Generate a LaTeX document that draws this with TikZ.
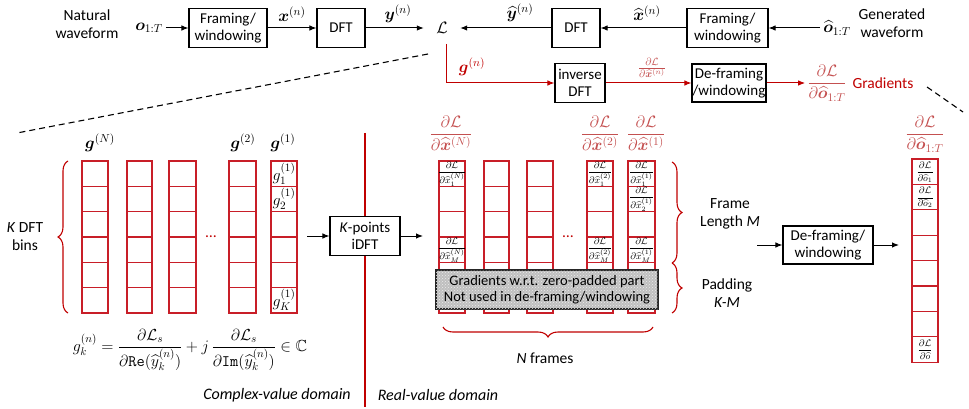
\RequirePackage{fix-cm}
\documentclass[tikz,border=0pt]{standalone}
\usepackage{amsmath,amssymb,bm}
\usepackage[no-math]{fontspec}
\setmainfont{Carlito}
\usetikzlibrary{arrows.meta,decorations.pathreplacing,patterns,calc}
\definecolor{myred}{RGB}{192,0,0}
\definecolor{fracred}{RGB}{196,80,80}
\definecolor{gridred}{RGB}{200,30,40}
\begin{document}
\begin{tikzpicture}[x=1pt,y=-1pt,font=\fontsize{15.5}{18}\selectfont,
  blk/.style={draw=black,line width=1.1pt,fill=white,align=center,inner sep=0pt,font=\fontsize{15}{17.5}\selectfont},
  arr/.style={-{Latex[length=7pt,width=5.5pt]},line width=1pt},
  rarr/.style={arr,draw=myred},
  cell/.style={draw=gridred,line width=1.2pt},
  brc/.style={decorate,decoration={brace,amplitude=10pt},draw=myred,line width=1.1pt},
  dsh/.style={dash pattern=on 6pt off 4pt,line width=1.1pt},
  txt/.style={align=center,inner sep=1pt},
  small/.style={inner sep=0pt,font=\fontsize{9.5}{10}\selectfont},
  mlab/.style={inner sep=0pt,font=\fontsize{16.5}{18}\selectfont}]
\useasboundingbox (0,0) rectangle (969,409);

% ---------- top row ----------
\node[txt] (nat) at (87,24) {Natural\\waveform};
\node[mlab,inner sep=3pt] (o) at (149,28) {$\bm{o}_{1:T}$};
\node[blk,minimum width=78,minimum height=39] (fw1) at (228,28) {Framing/\\windowing};
\node[blk,minimum width=48,minimum height=39] (dft1) at (341,28) {DFT};
\node[mlab,minimum width=36] (L) at (442,28) {$\mathcal{L}$};
\node[blk,minimum width=48,minimum height=39] (dft2) at (576,28) {DFT};
\node[blk,minimum width=81,minimum height=39] (fw2) at (727.5,28) {Framing/\\windowing};
\node[mlab,inner sep=3pt] (oh) at (837,28) {$\widehat{\bm{o}}_{1:T}$};
\node[txt] (gen) at (892,23.5) {Generated\\waveform};

\draw[arr] (o) -- (fw1);
\draw[arr] (fw1) -- (dft1);
\draw[arr] (dft1) -- (L);
\draw[arr] (dft2) -- (L);
\draw[arr] (fw2) -- (dft2);
\draw[arr] (oh) -- (fw2);
\node[mlab] (xl) at (292,14) {$\bm{x}^{(n)}$};
\node[mlab] (yl) at (398,14) {$\bm{y}^{(n)}$};
\node[mlab] (yhl) at (520,13) {$\widehat{\bm{y}}^{(n)}$};
\node[mlab] (xhl) at (647,13) {$\widehat{\bm{x}}^{(n)}$};

% ---------- red gradient row ----------
\coordinate (gs) at (446,44);
\node[blk,minimum width=50,minimum height=39] (idft) at (580,83) {inverse\\DFT};
\node[blk,minimum width=74,minimum height=38] (dfw1) at (729,83) {De-framing\\/windowing};
\node[mlab,text=fracred,inner sep=2pt] (dLdo) at (827,83) {$\dfrac{\partial\mathcal{L}}{\partial\widehat{\bm{o}}_{1:T}}$};
\node[text=myred,inner sep=0pt] (grad) at (883,83) {Gradients};
\draw[rarr] (gs) |- (idft);
\draw[rarr] (idft) -- (dfw1);
\draw[rarr] (dfw1) -- (dLdo);
\node[mlab,text=myred] (gl) at (472,67) {$\bm{g}^{(n)}$};
\node[text=fracred,inner sep=0pt,font=\fontsize{15}{17}\selectfont] (dxl) at (652,68) {$\frac{\partial\mathcal{L}}{\partial\widehat{\bm{x}}^{(n)}}$};

% dashed zoom lines
\coordinate (d1a) at (428,54); \coordinate (d1b) at (17,133);
\coordinate (d2a) at (927,87); \coordinate (d2b) at (963,112);
\draw[dsh] (d1a) -- (d1b);
\draw[dsh] (d2a) -- (d2b);

% divider
\draw[myred,line width=1.2pt] (365,133) -- (365,407);

% ---------- left grid (complex) ----------
\foreach \xa/\xb in {82/108,127/152,169/196,229/256,271/297}{
  \foreach \i in {0,...,5}{
    \draw[cell] (\xa,{161+25.33*\i}) rectangle (\xb,{161+25.33*(\i+1)});
  }
}
\node[mlab] (gN) at (100,143) {$\bm{g}^{(N)}$};
\node[mlab] (g2) at (243,143) {$\bm{g}^{(2)}$};
\node[mlab] (g1) at (283,143) {$\bm{g}^{(1)}$};
\node[inner sep=0pt,font=\fontsize{16}{18}\selectfont] (g11) at (284,174) {$g_1^{(1)}$};
\node[inner sep=0pt,font=\fontsize{16}{18}\selectfont] (g21) at (284,199) {$g_2^{(1)}$};
\node[inner sep=0pt,font=\fontsize{16}{18}\selectfont] (gK1) at (284,300) {$g_K^{(1)}$};
\node[text=myred,inner sep=0pt] (dotsL) at (211,237) {…};
\draw[brc] (68,313) -- (68,161);
\node[txt] (kbins) at (25,237) {\textit{K} DFT\\bins};
\node[inner sep=0pt,font=\fontsize{16}{18}\selectfont] (form) at (190,350) {$g_k^{(n)}=\dfrac{\partial\mathcal{L}_s}{\partial\mathtt{Re}(\widehat{y}_k^{(n)})}+j\,\dfrac{\partial\mathcal{L}_s}{\partial\mathtt{Im}(\widehat{y}_k^{(n)})}\in\mathbb{C}$};
\node[inner sep=0pt,font=\fontsize{16}{18}\selectfont] (cvd) at (277,395) {\textit{Complex-value domain}};

% K-points iDFT
\coordinate (kin) at (307,236);
\node[blk,minimum width=70,minimum height=39] (kidft) at (365,236) {\textit{K}-points\\iDFT};
\coordinate (kout) at (423,236);
\draw[arr] (kin) -- (kidft);
\draw[arr] (kidft) -- (kout);

% ---------- middle grid (real) ----------
\foreach \xa/\xb in {439/465,484/509,527/553,587/613,628/655}{
  \foreach \i in {0,...,5}{
    \draw[cell] (\xa,{161+25.33*\i}) rectangle (\xb,{161+25.33*(\i+1)});
  }
}
\node[mlab,text=fracred] (hN) at (451,133) {$\dfrac{\partial\mathcal{L}}{\partial\widehat{\bm{x}}^{(N)}}$};
\node[mlab,text=fracred] (h2) at (600,133) {$\dfrac{\partial\mathcal{L}}{\partial\widehat{\bm{x}}^{(2)}}$};
\node[mlab,text=fracred] (h1) at (646,133) {$\dfrac{\partial\mathcal{L}}{\partial\widehat{\bm{x}}^{(1)}}$};
\node[small] (cN1) at (452,174) {$\dfrac{\partial\mathcal{L}}{\partial\widehat{x}_1^{(N)}}$};
\node[small] (cNM) at (452,250) {$\dfrac{\partial\mathcal{L}}{\partial\widehat{x}_M^{(N)}}$};
\node[small] (c21) at (600,174) {$\dfrac{\partial\mathcal{L}}{\partial\widehat{x}_1^{(2)}}$};
\node[small] (c2M) at (600,250) {$\dfrac{\partial\mathcal{L}}{\partial\widehat{x}_M^{(2)}}$};
\node[small] (c11) at (641.5,174) {$\dfrac{\partial\mathcal{L}}{\partial\widehat{x}_1^{(1)}}$};
\node[small] (c12) at (641.5,199) {$\dfrac{\partial\mathcal{L}}{\partial\widehat{x}_2^{(1)}}$};
\node[small] (c1M) at (641.5,250) {$\dfrac{\partial\mathcal{L}}{\partial\widehat{x}_M^{(1)}}$};
\node[text=myred,inner sep=0pt] (dotsM) at (568,237) {…};
\node[draw=black!85,line width=1.2pt,fill=gray!50,
      postaction={pattern=crosshatch dots,pattern color=gray!15},
      minimum width=222,minimum height=39,align=center,inner sep=0pt,
      font=\fontsize{14.5}{16.5}\selectfont] (pad) at (547,289.5)
      {Gradients w.r.t. zero-padded part\\Not used in de-framing/windowing};
\draw[brc] (653,327) -- (443,327);
\node[inner sep=0pt] (nfr) at (545,358) {\textit{N} frames};
\node[inner sep=0pt,font=\fontsize{16}{18}\selectfont] (rvd) at (438,395) {\textit{Real-value domain}};

% ---------- right part ----------
\draw[brc] (672,162) -- (672,263);
\draw[brc] (672,263) -- (672,313);
\node[txt] (flen) at (730,214) {Frame\\Length \textit{M}};
\node[txt] (padl) at (727,293) {Padding\\\textit{K-M}};
\coordinate (din) at (757,245);
\node[blk,minimum width=90,minimum height=38] (dfw2) at (828,245) {De-framing/\\windowing};
\coordinate (dout) at (899,245);
\draw[arr] (din) -- (dfw2);
\draw[arr] (dfw2) -- (dout);
\foreach \i in {0,...,7}{
  \draw[cell] (912,{159+25.4*\i}) rectangle (938,{159+25.4*(\i+1)});
}
\node[mlab,text=fracred] (hO) at (925,134) {$\dfrac{\partial\mathcal{L}}{\partial\widehat{\bm{o}}_{1:T}}$};
\node[small] (o1) at (925,172) {$\dfrac{\partial\mathcal{L}}{\partial\widehat{o}_1}$};
\node[small] (o2) at (925,197.5) {$\dfrac{\partial\mathcal{L}}{\partial\widehat{o}_2}$};
\node[small] (oT) at (925,349.5) {$\dfrac{\partial\mathcal{L}}{\partial\widehat{o}}$};
\end{tikzpicture}
\end{document}
